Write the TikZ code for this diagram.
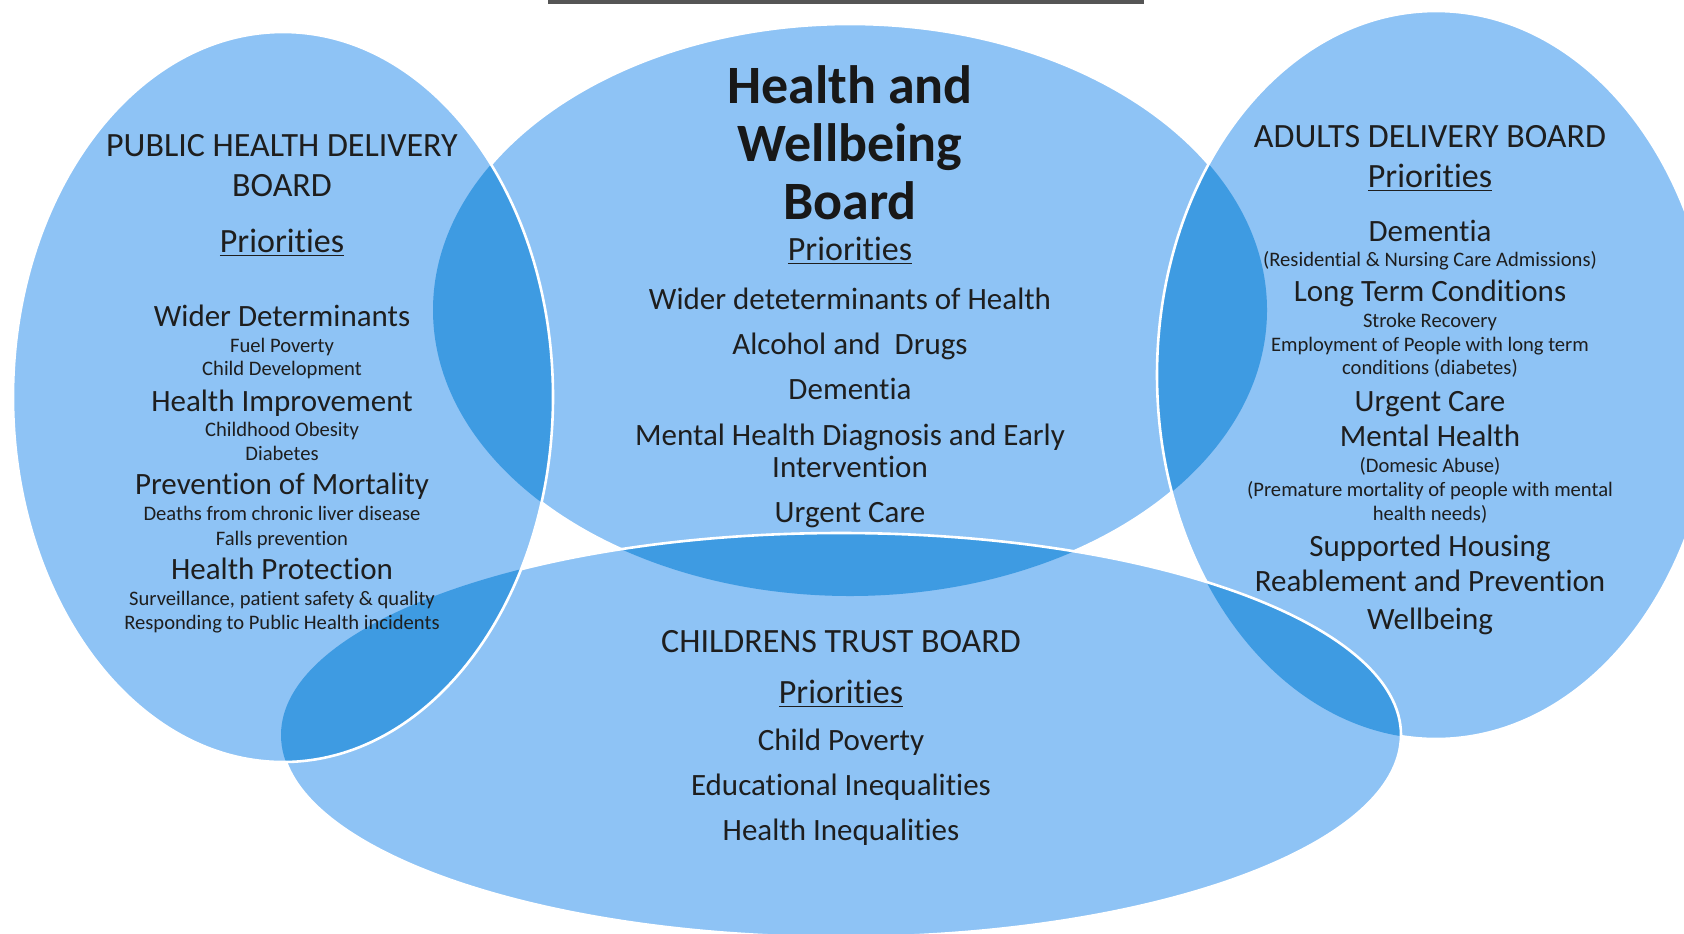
\documentclass[tikz,border=0pt]{standalone}
\usepackage{fontspec}
\setmainfont{Carlito}[Ligatures=NoCommon]
\usepackage{tikz}

\definecolor{boardblue}{RGB}{142,195,245}
\definecolor{lensblue}{RGB}{62,155,226}
\definecolor{inkgray}{RGB}{30,30,30}
\definecolor{bargray}{RGB}{85,85,85}

% ellipse outlines, one per board
\def\hwb{(850,310) ellipse [x radius=208.5pt, y radius=143pt]}
\def\adb{(1436,375) ellipse [x radius=139.5pt, y radius=182pt]}
\def\ctb{(841,735) ellipse [x radius=280pt, y radius=101pt]}
\def\phd{(283,397) ellipse [x radius=135pt, y radius=182.5pt]}

\begin{document}
\begin{tikzpicture}[x=0.5pt,y=-0.5pt,
  board/.style={fill=boardblue},
  lens/.style={fill=lensblue},
  rim/.style={draw=white,line width=1.3pt},
  every node/.style={text=inkgray,inner sep=0pt,anchor=base},
  head/.style={font=\fontsize{17}{20}\selectfont},
  prio/.style={font=\fontsize{17}{20}\selectfont},
  item/.style={font=\fontsize{15.5}{18}\selectfont},
  sub/.style={font=\fontsize{10.3}{12}\selectfont},
  title/.style={font=\bfseries\fontsize{27}{30}\selectfont,text=inkgray!80!black}]
  \useasboundingbox (0,0) rectangle (1684,933);
  \clip (0,0) rectangle (1684,933);

  %bar
  \fill[bargray] (548,0) rectangle (1144,3.5);

  %health and wellbeing board
  \path[board] \hwb;
  \path[rim] \hwb;

  %adults delivery board
  \path[board] \adb;
  \begin{scope}
    \clip \adb;
    \path[lens] \hwb;
  \end{scope}
  \path[rim] \adb;

  %childrens trust board
  \path[board] \ctb;
  \begin{scope}
    \clip \ctb;
    \path[lens] \hwb;
    \path[lens] \adb;
  \end{scope}
  \path[rim] \ctb;

  %public health delivery board
  \path[board] \phd;
  \begin{scope}
    \clip \phd;
    \path[lens] \hwb;
    \path[lens] \ctb;
  \end{scope}
  \path[rim] \phd;

  %left texts
  \foreach \y/\sty/\txt [count=\i] in {
    156/head/PUBLIC HEALTH DELIVERY, 196/head/BOARD,
    252/prio/\underline{Priorities},
    326/item/Wider Determinants, 352/sub/Fuel Poverty, 375/sub/Child Development,
    411/item/Health Improvement, 436/sub/Childhood Obesity, 460/sub/Diabetes,
    494/item/Prevention of Mortality, 520/sub/Deaths from chronic liver disease,
    545/sub/Falls prevention,
    579/item/Health Protection, 605/sub/{Surveillance, patient safety \& quality},
    629/sub/Responding to Public Health incidents}
    \node[\sty] (phd-\i) at (282,\y) {\txt};

  %centre texts
  \foreach \y/\txt [count=\i] in {103/Health and, 161/Wellbeing, 219/Board}
    \node[title] (hwb-t\i) at (850,\y) {\txt};
  \foreach \y/\sty/\txt [count=\i] in {
    260/prio/\underline{Priorities},
    309/item/Wider deteterminants of Health, 354/item/Alcohol and~ Drugs,
    399/item/Dementia, 445/item/Mental Health Diagnosis and Early,
    477/item/Intervention, 522/item/Urgent Care}
    \node[\sty] (hwb-\i) at (850,\y) {\txt};

  %right texts
  \foreach \y/\sty/\txt [count=\i] in {
    147/head/ADULTS DELIVERY BOARD, 187/prio/\underline{Priorities},
    241/item/Dementia, 266/sub/(Residential \& Nursing Care Admissions),
    301/item/Long Term Conditions, 327/sub/Stroke Recovery,
    351/sub/Employment of People with long term, 374/sub/conditions (diabetes),
    411/item/Urgent Care, 446/item/Mental Health, 472/sub/(Domesic Abuse),
    496/sub/(Premature mortality of people with mental, 520/sub/health needs),
    556/item/Supported Housing, 591/item/Reablement and Prevention,
    629/item/Wellbeing}
    \node[\sty] (adb-\i) at (1430,\y) {\txt};

  %bottom texts
  \foreach \y/\sty/\txt [count=\i] in {
    652/head/CHILDRENS TRUST BOARD, 703/prio/\underline{Priorities},
    750/item/Child Poverty, 795/item/Educational Inequalities,
    840/item/Health Inequalities}
    \node[\sty] (ctb-\i) at (841,\y) {\txt};
\end{tikzpicture}
\end{document}
